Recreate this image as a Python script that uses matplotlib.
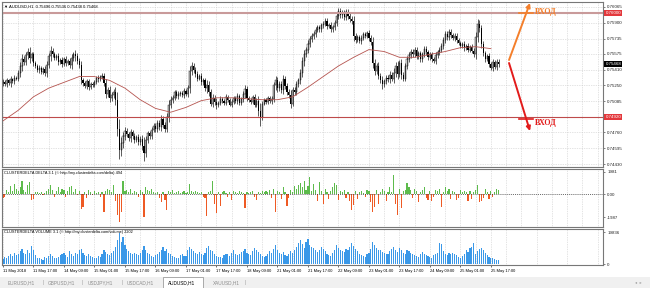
import matplotlib
matplotlib.use("Agg")
import matplotlib.pyplot as plt
import matplotlib.transforms as mtransforms
from matplotlib.patches import Rectangle
import numpy as np

plt.rcParams['font.family'] = ['Liberation Sans', 'DejaVu Sans']

# AUDUSD H1 closes, in pips (price * 10000)
close_pips = [
    7528, 7526, 7530, 7527, 7531, 7529, 7533, 7532,
    7538, 7545, 7552, 7549, 7556, 7560, 7553, 7557,
    7548, 7545, 7541, 7543, 7539, 7542, 7538, 7546,
    7555, 7561, 7557, 7553, 7555, 7549, 7551, 7547,
    7552, 7548, 7550, 7546, 7553, 7557, 7555, 7550,
    7546, 7530, 7527, 7524, 7529, 7523, 7526, 7525,
    7528, 7533, 7531, 7534, 7535, 7527, 7516, 7520, 7512,
    7515, 7518, 7510, 7480, 7458, 7465, 7472, 7478,
    7474, 7470, 7476, 7472, 7468, 7471, 7466, 7469,
    7462, 7455, 7468, 7475, 7472, 7479, 7483, 7480,
    7486, 7482, 7490, 7484, 7480, 7492, 7505, 7510,
    7512, 7518, 7514, 7516, 7517, 7515, 7519, 7516,
    7522, 7540, 7545, 7541, 7537, 7532, 7535, 7528,
    7530, 7522, 7525, 7518, 7506, 7512, 7508, 7504, 7507,
    7511, 7509, 7507, 7513, 7510, 7505, 7508, 7512,
    7509, 7514, 7507, 7511, 7516, 7521, 7512, 7510,
    7508, 7513, 7505, 7509, 7498, 7492, 7506, 7510,
    7508, 7512, 7509, 7511, 7525, 7530, 7522, 7526,
    7520, 7532, 7524, 7518, 7515, 7506, 7520, 7518,
    7526, 7530, 7538, 7550, 7557, 7562, 7568, 7573, 7576,
    7578, 7582, 7585, 7583, 7587, 7589, 7592, 7586,
    7588, 7583, 7585, 7590, 7597, 7602, 7598, 7600,
    7596, 7601, 7597, 7594, 7592, 7576, 7572, 7575,
    7571, 7574, 7578, 7576, 7579, 7574, 7570, 7548,
    7540, 7545, 7535, 7530, 7526, 7529, 7533, 7531,
    7536, 7532, 7538, 7545, 7537, 7548, 7536, 7532, 7545,
    7552, 7556, 7560, 7557, 7562, 7555, 7558, 7552,
    7557, 7563, 7559, 7554, 7557, 7552, 7550, 7556,
    7559, 7562, 7566, 7572, 7578, 7575, 7580, 7577,
    7574, 7576, 7572, 7569, 7566, 7568, 7564, 7566,
    7562, 7565, 7561, 7557, 7575, 7589, 7584, 7568,
    7558, 7552, 7555, 7547, 7543, 7549, 7544, 7549.6, 7546.8,
]
first_open_pips = 7527
wick_pips = [
    3, 2, 3, 2, 4, 2, 3, 2,
    3, 4, 5, 3, 3, 4, 5, 3,
    3, 2, 2, 3, 2, 2, 3, 4,
    3, 5, 3, 2, 2, 3, 2, 3,
    2, 3, 2, 3, 4, 3, 5, 3,
    3, 4, 3, 2, 3, 3, 2, 2,
    2, 2, 3, 2, 3, 3, 4, 3, 4,
    3, 3, 5, 8, 10, 6, 5, 4,
    3, 3, 4, 3, 3, 2, 3, 3,
    4, 9, 4, 3, 3, 3, 3, 3,
    3, 3, 4, 3, 3, 4, 5, 4,
    3, 2, 2, 3, 2, 2, 3, 2,
    3, 5, 4, 3, 3, 3, 2, 3,
    3, 3, 5, 4, 3, 4, 3, 4, 2,
    3, 2, 2, 3, 2, 2, 3, 2,
    2, 3, 2, 2, 3, 4, 3, 2,
    2, 2, 3, 3, 5, 9, 3, 2,
    2, 2, 2, 3, 3, 5, 4, 3,
    3, 4, 3, 3, 3, 5, 3, 3,
    3, 3, 4, 4, 5, 3, 4, 3, 3,
    3, 3, 2, 3, 3, 3, 3, 3,
    2, 3, 3, 3, 4, 3, 3, 3,
    3, 3, 3, 3, 3, 5, 3, 2,
    2, 3, 2, 2, 2, 3, 3, 5,
    4, 3, 4, 3, 5, 3, 3, 3,
    4, 3, 5, 4, 5, 3, 4, 3, 3,
    3, 3, 3, 3, 3, 3, 3, 3,
    3, 3, 3, 3, 3, 3, 2, 3,
    3, 3, 3, 3, 3, 3, 3, 3,
    2, 3, 3, 2, 2, 2, 3, 2,
    3, 2, 3, 3, 5, 5, 4, 4,
    3, 3, 2, 3, 2, 3, 2, 3, 3,
]
# moving average, one value every 8 bars
ma_pips = [7488, 7499, 7513, 7522, 7528, 7534, 7534, 7530, 7522, 7510, 7501,
           7497, 7502, 7509, 7512, 7512, 7511, 7510, 7510, 7513, 7523, 7534,
           7545, 7554, 7562, 7560, 7554, 7554, 7557, 7560, 7564, 7565, 7563]
ma_step = 8

# ClusterDelta delta, in hundreds
delta_h = [
    -3, -2, 4, 2, 7, 3, 9, 5,
    3, 6, 12, 4, 2, 8, 11, -5,
    -4, 2, 2, 1, 2, -1, 1, 3,
    5, 8, 4, -2, 3, 6, 2, 5,
    4, -2, 3, 6, 7, 2, 5, -1,
    3, -13, -11, 2, -3, 4, 2, -1,
    3, 1, 2, -2, 2, -15, 3, 5, 4,
    2, 8, -6, -18, -24, -15, 12, 3,
    4, 2, 5, 1, 3, 2, -2, 4,
    2, -20, 6, 4, 3, 5, 2, 1,
    2, -3, -7, 2, -5, -14, 3, 2,
    4, 1, 2, 3, 1, 2, 3, 1,
    2, 9, 3, 2, 3, 2, 1, 2,
    -2, -3, -19, 2, 3, 12, -8, -16, 2,
    -10, 2, 3, 1, -2, 2, -5, 3,
    2, 1, 3, 2, 1, -12, 2, 1,
    2, 3, -2, -5, 2, 1, 3, 2,
    3, 2, 4, -3, 5, -15, 3, 2,
    -4, 6, 2, -10, -3, 4, 2, 7,
    5, 8, 10, 6, 12, 4, 7, 15, 3,
    9, 4, -6, 11, 3, -8, 5, 2,
    -4, 3, 6, 10, 8, -5, 3, 2,
    4, -3, 2, -6, -14, -9, 3, -4,
    2, 3, 1, -2, 4, 3, -7, -15,
    -11, 4, -8, 2, 5, 3, -6, 2,
    6, 2, 17, -8, -18, 5, -12, 3, 4,
    10, 6, 4, -3, 5, 3, -7, 2,
    4, 6, -3, -5, 3, -6, -2, 4,
    3, 5, -11, 2, 6, 3, 5, -4,
    3, 2, -5, -3, 4, 2, 3, 2,
    -6, 3, -4, 2, 4, 8, -7, -6,
    -3, 5, 2, -4, 3, -2, 2, 5, 4,
]
# ClusterDelta volume, in hundreds
volume_h = [
    30, 45, 38, 52, 60, 48, 70, 55,
    65, 80, 95, 72, 60, 85, 70, 112,
    90, 55, 40, 35, 30, 28, 45, 38,
    50, 62, 48, 40, 35, 42, 55, 60,
    70, 58, 45, 80, 65, 50, 72, 60,
    85, 95, 70, 55, 48, 60, 52, 45,
    40, 35, 50, 45, 65, 90, 75, 60, 55,
    70, 80, 110, 150, 198, 140, 167, 120,
    95, 80, 70, 65, 72, 60, 55, 68,
    90, 115, 85, 70, 60, 50, 45, 55,
    60, 75, 90, 105, 80, 95, 70, 60,
    50, 45, 40, 35, 55, 60, 48, 52,
    85, 110, 95, 80, 70, 60, 75, 65,
    55, 70, 100, 115, 90, 80, 60, 50, 45,
    45, 40, 55, 65, 60, 50, 70, 85,
    65, 55, 60, 75, 80, 95, 70, 60,
    55, 80, 100, 90, 75, 60, 50, 45,
    50, 65, 80, 70, 95, 120, 85, 70,
    60, 75, 55, 50, 65, 80, 70, 90,
    110, 130, 150, 125, 100, 140, 160, 120, 105,
    100, 85, 75, 90, 110, 95, 80, 65,
    55, 50, 70, 85, 120, 100, 90, 80,
    75, 95, 85, 110, 130, 115, 95, 80,
    65, 55, 50, 45, 60, 70, 95, 140,
    120, 100, 85, 90, 75, 70, 65, 60,
    80, 95, 110, 90, 75, 100, 85, 70, 65,
    90, 80, 70, 60, 55, 50, 45, 60,
    75, 65, 55, 50, 45, 40, 55, 60,
    70, 130, 125, 80, 60, 55, 70, 65,
    70, 60, 55, 45, 40, 50, 65, 85,
    75, 100, 110, 130, 60, 80, 95, 100,
    85, 70, 55, 45, 40, 35, 30, 28, 25,
]

price_ticks = [0.76065, 0.75900, 0.75735, 0.75575, 0.75410, 0.75250,
               0.75085, 0.74920, 0.74760, 0.74595, 0.74430]
time_labels = ["11 May 2018", "11 May 17:00", "14 May 09:00", "15 May 01:00",
               "15 May 17:00", "16 May 09:00", "17 May 01:00", "17 May 17:00",
               "18 May 09:00", "21 May 01:00", "21 May 17:00", "22 May 09:00",
               "23 May 01:00", "23 May 17:00", "24 May 09:00", "25 May 01:00",
               "25 May 17:00"]
label_step = 16
upper_level = 0.76000
lower_level = 0.74920
last_price = 0.75468
tabs = ["EURUSD,H1", "GBPUSD,H1", "USDJPY,H1", "USDCAD,H1", "AUDUSD,H1", "XAUUSD,H1"]
active_tab = "AUDUSD,H1"

W, H = 650, 288
fig = plt.figure(figsize=(W / 100, H / 100), dpi=100, facecolor="white")


def rect(x0, y0, x1, y1):
    return [x0 / W, 1 - y1 / H, (x1 - x0) / W, (y1 - y0) / H]


ax_p = fig.add_axes(rect(2, 2, 603, 167))
ax_d = fig.add_axes(rect(2, 169, 603, 227))
ax_v = fig.add_axes(rect(2, 229, 603, 265))

c = np.array(close_pips) / 1e4
o = np.r_[first_open_pips / 1e4, c[:-1]]
w = np.array(wick_pips) / 1e4
idx = np.arange(len(c))
hi = np.maximum(o, c) + w
lo = np.minimum(o, c) - w
xmin, xmax = -0.5, 314.8

grid_kw = dict(color="#C8C8C8", ls=(0, (1, 1.5)), lw=0.5)
for ax in (ax_p, ax_d, ax_v):
    ax.set_xlim(xmin, xmax)
    ax.set_facecolor("white")
    ax.set_xticks(np.arange(0, xmax, label_step))
    ax.set_xticks(np.arange(8, xmax, label_step), minor=True)
    ax.grid(True, which="both", axis="x", **grid_kw)
    ax.set_axisbelow(True)
    ax.yaxis.tick_right()
    ax.tick_params(axis="y", labelsize=3.2, length=1.5, pad=1.5, width=0.4,
                   colors="#222222")
    ax.tick_params(axis="x", which="both", length=0, labelbottom=False)
    for s in ax.spines.values():
        s.set_color("#777777")
        s.set_linewidth(0.8)

# price panel
ax_p.set_ylim(0.744019, 0.761138)
ax_p.set_yticks(price_ticks)
# the 0.74920 tick sits under the red level box
ax_p.set_yticklabels(["" if abs(t - lower_level) < 1e-6 else f"{t:.5f}"
                      for t in price_ticks])
ax_p.grid(True, axis="y", **grid_kw)
ax_p.vlines(idx, lo, hi, color="black", lw=0.45)
up = c >= o
body = np.maximum(np.abs(c - o), 0.00003)
ax_p.bar(idx[up], body[up], bottom=o[up], width=0.6, facecolor="white",
         edgecolor="black", lw=0.3)
ax_p.bar(idx[~up], body[~up], bottom=c[~up], width=0.6, color="black", lw=0)
ax_p.plot(np.arange(len(ma_pips)) * ma_step, np.array(ma_pips) / 1e4,
          color="#B5544F", lw=0.6)
ax_p.axhline(upper_level, color="#C99A9A", lw=1.5)
ax_p.axhline(lower_level, color="#BE4B4B", lw=0.8)
ax_p.text(0.003, 0.985, "\u25bc AUDUSD,H1  0.75496 0.75536 0.75438 0.75468",
          transform=ax_p.transAxes, fontsize=3, va="top", ha="left")

trans = mtransforms.blended_transform_factory(ax_p.transAxes, ax_p.transData)
for val, col in [(upper_level, "#E3383C"), (lower_level, "#E3383C"),
                 (last_price, "black")]:
    ax_p.text(1.004, val, f"{val:.5f}", transform=trans, fontsize=3.2,
              color="white", va="center", ha="left", clip_on=False,
              bbox=dict(boxstyle="square,pad=0.25", fc=col, ec=col, lw=0))

# entry arrows
orange, red = "#F47F2B", "#E21B1B"
ax_p.annotate("", xy=(276.5, 0.76104), xytext=(265.5, 0.75512),
              arrowprops=dict(arrowstyle="-|>", color=orange, lw=1.4,
                              mutation_scale=6, shrinkA=0, shrinkB=0),
              annotation_clip=False)
ax_p.annotate("", xy=(276.5, 0.74775), xytext=(265.5, 0.75481),
              arrowprops=dict(arrowstyle="-|>", color=red, lw=1.4,
                              mutation_scale=6, shrinkA=0, shrinkB=0),
              annotation_clip=False)
ax_p.plot([270.5, 278], [upper_level, upper_level], color=orange, lw=1.2)
ax_p.plot([270.5, 278], [0.74900, 0.74900], color=red, lw=1.2)
ax_p.text(279, 0.76012, "ВХОД", color=orange, fontsize=5.8, fontweight="bold",
          family="Liberation Serif", va="center", ha="left")
ax_p.text(279, 0.74862, "ВХОД", color=red, fontsize=5.8, fontweight="bold",
          family="Liberation Serif", va="center", ha="left")

# delta panel
d = np.array(delta_h) * 100
ax_d.set_ylim(-2840, 2200)
ax_d.bar(idx, d, width=0.6, color=np.where(d >= 0, "#5DBB4C", "#EE5A24"),
         lw=0, antialiased=False)
ax_d.axhline(0, color="#333333", lw=0.5, ls=(0, (1.5, 1.5)))
ax_d.set_yticks([1981, 0, -1987])
ax_d.set_yticklabels(["1981", "0.00", "-1987"])
ax_d.text(0.003, 0.97,
          "CLUSTERDELTA DELTA 3.1 (\u00a9 http://my.clusterdelta.com/delta) 494",
          transform=ax_d.transAxes, fontsize=2.8, va="top", ha="left")

# volume panel
v = np.array(volume_h) * 100
ax_v.set_ylim(-620, 22000)
ax_v.bar(idx, v, width=0.6, color="#3A98E8", lw=0, antialiased=False)
ax_v.set_yticks([19836, 0])
ax_v.set_yticklabels(["19836", "0"])
ax_v.text(0.003, 0.96,
          "CLUSTERDELTA VOLUME 3.1 (\u00a9 http://my.clusterdelta.com/volume) 2202",
          transform=ax_v.transAxes, fontsize=2.8, va="top", ha="left")
ax_v.set_xticks(np.arange(len(time_labels)) * label_step)
ax_v.set_xticklabels(time_labels)
ax_v.tick_params(axis="x", which="major", length=1.5, width=0.4,
                 labelbottom=True, labelsize=2.9, pad=1.5)
for lab in ax_v.get_xticklabels():
    lab.set_ha("left")

# terminal tab bar
fig.patches.append(Rectangle((0, 0), 1, 11 / H, transform=fig.transFigure,
                             fc="#F0F0F0", ec="none"))
fig.patches.append(Rectangle((0, 11 / H), 1, 0.4 / H, transform=fig.transFigure,
                             fc="#B0B0B0", ec="none"))
tab_x = [8, 48, 88, 127, 168, 213]
for name, tx in zip(tabs, tab_x):
    if name == active_tab:
        fig.patches.append(Rectangle((163 / W, 0), 40 / W, 11.5 / H,
                                     transform=fig.transFigure, fc="white",
                                     ec="#8A8A8A", lw=0.5))
    fig.text(tx / W, 1 - 282.5 / H, name, fontsize=3.4, va="center", ha="left",
             color="black" if name == active_tab else "#8C8C8C")
for sx in [43, 82, 122, 245]:
    fig.text(sx / W, 1 - 282.5 / H, "|", fontsize=3.4, va="center",
             ha="center", color="#9A9A9A")
fig.text(635 / W, 1 - 283 / H, "\u25c2  \u25b8", fontsize=3, va="center",
         ha="left", color="#9A9A9A", family=["DejaVu Sans"])

fig.savefig("out.png", dpi=100, facecolor="white")
